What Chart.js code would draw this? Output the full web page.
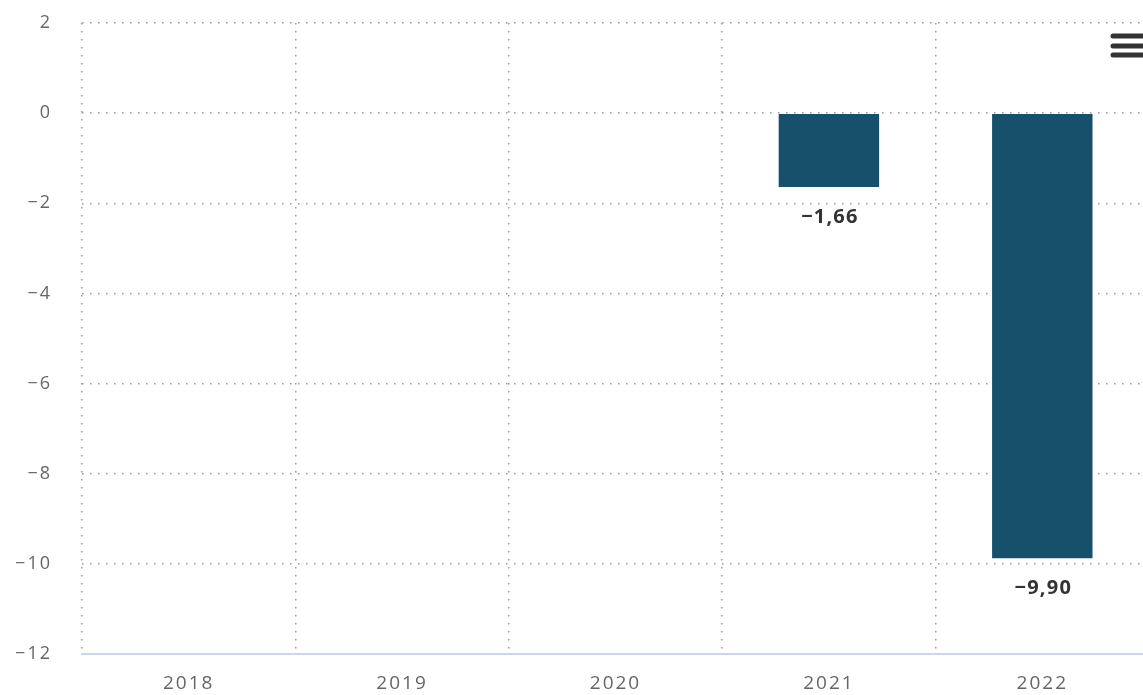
<!DOCTYPE html>
<html>
<head>
<meta charset="utf-8">
<script src="https://cdn.jsdelivr.net/npm/chart.js@4/dist/chart.umd.min.js"></script>
<style>
  html, body { margin: 0; padding: 0; background: #fff; overflow: hidden; }
  #wrap { position: relative; width: 1149px; height: 695px; }
</style>
</head>
<body>
<div id="wrap"><canvas id="c"></canvas></div>
<script>
const categories = ['2018', '2019', '2020', '2021', '2022'];
const values = [null, null, null, -1.66, -9.90];
const yTicks = [-12, -10, -8, -6, -4, -2, 0, 2];

const FONT = '"Open Sans", "DejaVu Sans", sans-serif';
const LS = '2px';

function fmt(v, dec) {
  const s = Math.abs(v).toFixed(dec).replace('.', ',');
  return (v < 0 ? '\u2212' : '') + s;
}

const spacingPlugin = {
  id: 'spacing',
  beforeUpdate(chart) { chart.ctx.letterSpacing = LS; },
  beforeLayout(chart) { chart.ctx.letterSpacing = LS; },
  beforeDraw(chart) { chart.ctx.letterSpacing = LS; }
};

const labelPlugin = {
  id: 'barLabels',
  afterDatasetsDraw(chart) {
    const ctx = chart.ctx;
    const meta = chart.getDatasetMeta(0);
    ctx.save();
    ctx.letterSpacing = '1.2px';
    ctx.font = 'bold 20px ' + FONT;
    ctx.fillStyle = '#333';
    ctx.textAlign = 'center';
    ctx.textBaseline = 'middle';
    meta.data.forEach((bar, i) => {
      const v = values[i];
      if (v === null || v === undefined) return;
      ctx.fillText(fmt(v, 2), bar.x + 1, bar.y + 29);
    });
    ctx.restore();
  },
  afterDraw(chart) {
    const ctx = chart.ctx;
    ctx.save();
    ctx.strokeStyle = '#333';
    ctx.lineWidth = 5;
    ctx.lineCap = 'round';
    [36, 46, 55].forEach(y => {
      ctx.beginPath();
      ctx.moveTo(1113, y);
      ctx.lineTo(1152, y);
      ctx.stroke();
    });
    ctx.restore();
  }
};

new Chart(document.getElementById('c'), {
  type: 'bar',
  data: {
    labels: categories,
    datasets: [{
      data: values,
      backgroundColor: '#17506b',
      borderColor: 'rgba(255,255,255,0.7)',
      borderWidth: 1,
      categoryPercentage: 1,
      barPercentage: 0.48
    }]
  },
  options: {
    responsive: true,
    maintainAspectRatio: false,
    animation: false,
    layout: { padding: { top: 23, right: 0, left: 0, bottom: 0 } },
    plugins: { legend: { display: false }, tooltip: { enabled: false } },
    scales: {
      x: {
        grid: {
          offset: true,
          color: '#999',
          lineWidth: 1.5,
          drawTicks: false
        },
        border: { display: true, color: '#ccd6eb', width: 2, dash: [1.5, 6.5] },
        ticks: {
          color: '#666',
          font: { family: FONT, size: 19 },
          padding: 18,
          maxRotation: 0
        },
        afterFit(scale) { scale.height = 41; }
      },
      y: {
        min: -12,
        max: 2,
        afterBuildTicks(scale) { scale.ticks = yTicks.map(v => ({ value: v })); },
        grid: {
          color: '#999',
          lineWidth: 1.5,
          drawTicks: true,
          tickLength: 30,
          tickColor: 'rgba(0,0,0,0)'
        },
        border: { display: false, dash: [1.5, 6.5] },
        ticks: {
          color: '#666',
          font: { family: FONT, size: 18 },
          padding: 0,
          callback: v => fmt(v, 0)
        },
        afterFit(scale) { scale.width = 82; }
      }
    }
  },
  plugins: [spacingPlugin, labelPlugin]
});
</script>
</body>
</html>
